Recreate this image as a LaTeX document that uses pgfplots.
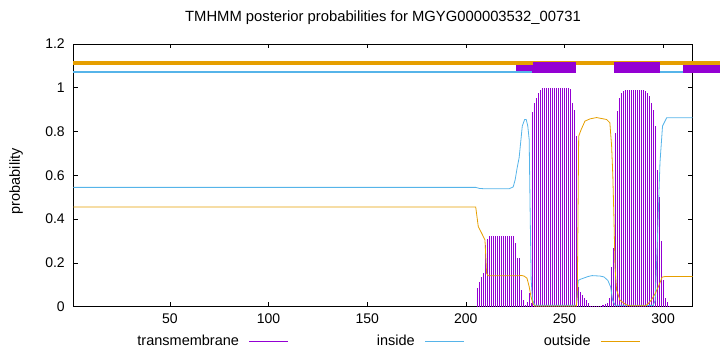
\documentclass[border=0pt]{standalone}
\usepackage{pgfplots}
\pgfplotsset{compat=1.18}
\usepackage{pgfplotstable}
\usepackage{fontspec}
\setmainfont{Liberation Sans}
\definecolor{tmc}{HTML}{9400D3}
\definecolor{insc}{HTML}{56B4E9}
\definecolor{outc}{HTML}{E69F00}

\pgfplotstableread{
x y
205 0.0
206 0.085
207 0.115
208 0.137
209 0.153
210 0.28
211 0.31
212 0.322
213 0.324
214 0.324
215 0.324
216 0.324
217 0.324
218 0.324
219 0.324
220 0.324
221 0.324
222 0.324
223 0.324
224 0.324
225 0.29
226 0.222
227 0.222
228 0.077
229 0.031
230 0.01
231 0.02
232 0.061
233 0.017
234 0.89
235 0.932
236 0.955
237 0.977
238 0.99
239 0.997
240 0.997
241 0.997
242 0.997
243 0.997
244 0.997
245 0.997
246 0.997
247 0.997
248 0.997
249 0.997
250 0.997
251 0.997
252 0.997
253 0.993
254 0.932
255 0.90
256 0.779
257 0.092
258 0.069
259 0.055
260 0.04
261 0.03
262 0.015
263 0.005
264 0.003
265 0.003
266 0.003
267 0.003
268 0.003
269 0.01
270 0.01
271 0.012
272 0.015
273 0.04
274 0.18
275 0.27
276 0.794
277 0.893
278 0.955
279 0.977
280 0.985
281 0.988
282 0.988
283 0.988
284 0.988
285 0.988
286 0.988
287 0.988
288 0.988
289 0.988
290 0.988
291 0.985
292 0.977
293 0.962
294 0.932
295 0.90
296 0.825
297 0.626
298 0.50
299 0.30
300 0.12
301 0.04
302 0.02
303 0.005
}\tmdata

\begin{document}
\begin{tikzpicture}[x=1pt,y=1pt]
\useasboundingbox (0,0) rectangle (720,352);
\begin{axis}[
  at={(73.3pt,45.3pt)}, anchor=south west,
  scale only axis, width=619.4pt, height=262.7pt,
  xmin=1, xmax=315, ymin=0, ymax=1.2,
  clip=false,
  axis line style={line width=0.8pt},
  tick align=inside, major tick length=4.5pt,
  tick style={black, line width=0.6pt},
  xtick={50,100,150,200,250,300},
  ytick={0,0.2,0.4,0.6,0.8,1,1.2},
  minor tick num=0,
  /pgf/number format/assume math mode=true,
  tick label style={font=\fontsize{14}{16}\selectfont},
  yticklabel style={xshift=-5pt},
  xticklabel style={yshift=-3pt},
  title={TMHMM posterior probabilities for MGYG000003532\_00731},
  title style={font=\fontsize{14.8}{17}\selectfont, at={(axis description cs:0.5,1)}, anchor=base, yshift=16pt},
  ylabel={probability},
  ylabel style={font=\fontsize{14.5}{17}\selectfont, at={(axis description cs:-0.0925,0.478)}, anchor=center},
  legend plot pos=right,
  legend cell align=right,
  legend columns=3,
  legend style={at={(axis description cs:0.0899,-0.131)}, anchor=west, draw=none, fill=none,
    inner sep=0pt, outer sep=0pt, font=\fontsize{14.5}{17}\selectfont,
    nodes={inner sep=0pt},
    /tikz/every odd column/.style={column sep=10pt},
    /tikz/every even column/.style={column sep=16pt}},
  legend image code/.code={\draw[#1] (0pt,0pt) -- (39pt,0pt);},
]
% top topology bars
\addplot[forget plot, tmc, line width=10.7pt] coordinates {(225.4,1.0935) (256,1.0935)};
\addplot[forget plot, tmc, line width=8.3pt] coordinates {(310,1.0865) (328.8,1.0865)};
\addplot[forget plot, outc, line width=4pt] coordinates {(1,1.113) (328.8,1.113)};
\addplot[forget plot, insc, line width=2.7pt] coordinates {(1,1.0715) (233.3,1.0715)};
\addplot[forget plot, insc, line width=2.7pt] coordinates {(298,1.0715) (310,1.0715)};
\addplot[forget plot, tmc, line width=10.7pt] coordinates {(234,1.0935) (256,1.0935)};
\addplot[forget plot, tmc, line width=10.7pt] coordinates {(275.2,1.0935) (298.4,1.0935)};
% transmembrane impulses
\addplot[forget plot, ycomb, tmc, line width=0.9pt, mark=none] table[x=x,y=y] {\tmdata};
% inside
\addplot[forget plot, insc, line width=0.8pt, mark=none] coordinates {
(1,0.545) (205,0.545) (207,0.540) (209,0.539) (222,0.539) (224,0.547) (225,0.58) (226,0.634)
(227,0.68) (227.6,0.733) (228.6,0.825) (229.8,0.855) (230.6,0.855) (231.4,0.825) (232.1,0.764)
(232.6,0.43) (233.1,0.122) (233.8,0.031) (235,0.006) (256,0.006) (256.5,0.05) (257,0.12)
(258,0.125) (262,0.138) (264,0.142) (268,0.14) (270,0.136) (272,0.12) (273.4,0.09) (274.4,0.03)
(275.6,0.007) (295,0.006) (296,0.03) (297,0.275) (298.4,0.657) (299.7,0.825) (301.8,0.863) (315,0.863)};
% outside
\addplot[forget plot, outc, line width=0.8pt, mark=none] coordinates {
(1,0.455) (205,0.455) (206.3,0.366) (208,0.336) (209.7,0.305) (210.5,0.153) (211.3,0.141)
(227,0.141) (228,0.143) (229.5,0.14) (231,0.13) (232.1,0.092) (233,0.046) (234.2,0.01)
(235,0.003) (256,0.003) (256.5,0.05) (257.2,0.779) (258.5,0.81) (260.4,0.848) (263,0.858)
(266.3,0.864) (271.4,0.855) (273,0.84) (273.9,0.733) (274.5,0.6) (275.1,0.397) (275.6,0.183)
(276.4,0.077) (278.1,0.03) (281,0.01) (283,0.004) (291,0.004) (292,0.01) (294,0.03) (296,0.06)
(298,0.1) (299.5,0.135) (301,0.138) (315,0.138)};
\addlegendimage{tmc, line width=0.8pt}
\addlegendentry{\makebox[110pt][r]{transmembrane}}
\addlegendimage{insc, line width=0.8pt}
\addlegendentry{\makebox[110pt][r]{inside}}
\addlegendimage{outc, line width=0.8pt}
\addlegendentry{\makebox[110pt][r]{outside}}
\end{axis}
\end{tikzpicture}
\end{document}
